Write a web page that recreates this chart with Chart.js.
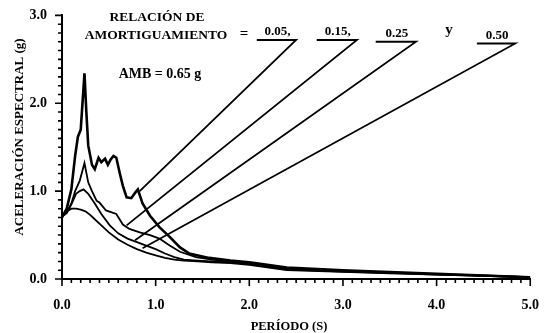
<!DOCTYPE html>
<html>
<head>
<title>Aceleración espectral</title>
<script src="https://cdn.jsdelivr.net/npm/chart.js"></script>
<style>
  html, body { margin: 0; padding: 0; background: #fff; }
  #wrap { width: 549px; height: 333px; }
</style>
</head>
<body>
<div id="wrap"><canvas id="myChart"></canvas></div>
<script>
// damping ratios
const dampingRatios = ['0.05,', '0.15,', '0.25', '0.50'];

// spectral acceleration (g) vs period (s), one pair of arrays per damping ratio
const periods005 = [0, 0.05, 0.10, 0.14, 0.17, 0.20, 0.24, 0.26, 0.28, 0.32, 0.35, 0.39, 0.42, 0.46, 0.49, 0.52, 0.55, 0.58, 0.62, 0.65, 0.69, 0.74, 0.78, 0.81, 0.86, 0.94, 1.04, 1.15, 1.26, 1.36, 1.57, 1.8, 2.0, 2.4, 3.0, 3.5, 4.0, 4.5, 5.0];
const accel005   = [0.70, 0.80, 1.02, 1.40, 1.62, 1.70, 2.34, 1.90, 1.52, 1.30, 1.25, 1.38, 1.33, 1.37, 1.30, 1.36, 1.40, 1.38, 1.19, 1.06, 0.93, 0.92, 0.98, 1.02, 0.86, 0.72, 0.59, 0.48, 0.36, 0.29, 0.24, 0.21, 0.19, 0.13, 0.10, 0.08, 0.06, 0.04, 0.02];

const periods015 = [0, 0.05, 0.10, 0.14, 0.19, 0.24, 0.28, 0.32, 0.37, 0.40, 0.47, 0.58, 0.65, 0.72, 0.83, 0.94, 1.04, 1.15, 1.26, 1.43, 1.6, 1.8, 2.0, 2.4, 3.0, 3.5, 4.0, 4.5, 5.0];
const accel015   = [0.71, 0.76, 0.86, 1.00, 1.12, 1.32, 1.10, 1.00, 0.89, 0.87, 0.78, 0.74, 0.62, 0.57, 0.53, 0.50, 0.46, 0.38, 0.31, 0.25, 0.22, 0.20, 0.18, 0.12, 0.09, 0.075, 0.055, 0.04, 0.02];

const periods025 = [0, 0.05, 0.10, 0.15, 0.19, 0.23, 0.28, 0.35, 0.42, 0.51, 0.60, 0.70, 0.80, 0.90, 1.00, 1.10, 1.20, 1.30, 1.45, 1.6, 1.8, 2.0, 2.4, 3.0, 3.5, 4.0, 4.5, 5.0];
const accel025   = [0.71, 0.75, 0.85, 0.97, 1.00, 1.02, 0.97, 0.86, 0.74, 0.61, 0.52, 0.46, 0.42, 0.38, 0.34, 0.29, 0.25, 0.22, 0.21, 0.20, 0.19, 0.17, 0.11, 0.085, 0.07, 0.05, 0.035, 0.02];

const periods050 = [0, 0.05, 0.10, 0.15, 0.20, 0.25, 0.30, 0.35, 0.40, 0.50, 0.60, 0.70, 0.80, 0.90, 1.00, 1.10, 1.20, 1.30, 1.45, 1.6, 1.8, 2.0, 2.4, 3.0, 3.5, 4.0, 4.5, 5.0];
const accel050   = [0.72, 0.77, 0.80, 0.80, 0.79, 0.77, 0.73, 0.68, 0.63, 0.53, 0.45, 0.39, 0.34, 0.30, 0.27, 0.24, 0.22, 0.21, 0.20, 0.19, 0.18, 0.16, 0.10, 0.08, 0.065, 0.05, 0.035, 0.02];

// axis ticks
const xTicks = [0, 1, 2, 3, 4, 5];
const yTicks = [0, 1, 2, 3];

// leader lines: label underline start/end and the point on the curve (data units)
const leaders = [
  { label: dampingRatios[0], from: [2.08, 2.72], to: [2.50, 2.72], tip: [0.83, 1.00] },
  { label: dampingRatios[1], from: [2.72, 2.72], to: [3.15, 2.72], tip: [0.69, 0.61] },
  { label: dampingRatios[2], from: [3.35, 2.70], to: [3.78, 2.70], tip: [0.78, 0.44] },
  { label: dampingRatios[3], from: [4.43, 2.68], to: [4.84, 2.68], tip: [0.86, 0.35] }
];

function toXY(xs, ys) {
  return xs.map((x, i) => ({ x: x, y: ys[i] }));
}

const serif = '"Liberation Serif", "DejaVu Serif", serif';

const annotations = {
  id: 'annotations',
  afterDraw(chart) {
    const c = chart.ctx;
    const xs = chart.scales.x, ys = chart.scales.y;
    c.save();
    c.strokeStyle = '#000';
    c.fillStyle = '#000';

    // leader lines
    c.lineWidth = 1.8;
    c.textAlign = 'center';
    c.textBaseline = 'alphabetic';
    c.font = 'bold 13px ' + serif;
    leaders.forEach(l => {
      const x1 = xs.getPixelForValue(l.from[0]), y1 = ys.getPixelForValue(l.from[1]);
      const x2 = xs.getPixelForValue(l.to[0]), y2 = ys.getPixelForValue(l.to[1]);
      const x3 = xs.getPixelForValue(l.tip[0]), y3 = ys.getPixelForValue(l.tip[1]);
      c.beginPath();
      c.moveTo(x1, y1); c.lineTo(x2, y2); c.lineTo(x3, y3);
      c.stroke();
      c.fillText(l.label, (x1 + x2) / 2 + 1, y1 - 5);
    });

    // text block
    c.font = 'bold 13.5px ' + serif;
    c.fillText('RELACIÓN DE', 157, 21);
    c.fillText('AMORTIGUAMIENTO', 156, 39);
    c.font = 'bold 15px ' + serif;
    c.fillText('=', 244, 38);
    c.fillText('y', 449, 34);
    c.font = 'bold 14px ' + serif;
    c.fillText('AMB = 0.65 g', 160, 78);

    // axis titles
    c.font = 'bold 12.5px ' + serif;
    c.fillText('PERÍODO (S)', 289, 330);
    c.save();
    c.translate(23, 137);
    c.rotate(-Math.PI / 2);
    c.font = 'bold 13px ' + serif;
    c.fillText('ACELERACIÓN ESPECTRAL (g)', 0, 0);
    c.restore();

    // tick marks: minor every 0.1, major at the labels
    const x0 = xs.left, y0 = ys.bottom;
    c.beginPath();
    c.lineWidth = 1.6;
    for (let i = 0; i <= 50; i++) {
      const p = xs.getPixelForValue(i / 10);
      const len = xTicks.includes(i / 10) ? 7 : 4;
      c.moveTo(p, y0);
      c.lineTo(p, y0 + len);
    }
    for (let i = 0; i <= 30; i++) {
      const p = ys.getPixelForValue(i / 10);
      const len = yTicks.includes(i / 10) ? 7 : 4;
      c.moveTo(x0, p);
      c.lineTo(x0 - len, p);
    }
    c.stroke();
    c.restore();
  }
};

const lineSet = (xs, ys, w) => ({
  data: toXY(xs, ys),
  borderColor: '#000',
  borderWidth: w,
  pointRadius: 0,
  tension: 0,
  fill: false
});

const ctx = document.getElementById('myChart').getContext('2d');
const myChart = new Chart(ctx, {
  type: 'line',
  data: {
    datasets: [
      lineSet(periods005, accel005, 2.6),
      lineSet(periods015, accel015, 1.8),
      lineSet(periods025, accel025, 1.8),
      lineSet(periods050, accel050, 1.8)
    ]
  },
  options: {
    responsive: true,
    maintainAspectRatio: false,
    animation: false,
    layout: { padding: { top: 14, right: 17, left: 0, bottom: 0 } },
    plugins: { legend: { display: false }, tooltip: { enabled: false } },
    scales: {
      x: {
        type: 'linear',
        min: 0, max: 5,
        afterFit(s) { s.height = 54; },
        border: { display: true, color: '#000', width: 2 },
        grid: { display: false },
        ticks: {
          stepSize: 1,
          autoSkip: false,
          maxRotation: 0,
          color: '#000',
          padding: 10,
          font: { family: serif, size: 14, weight: 'bold' },
          callback: v => v.toFixed(1)
        }
      },
      y: {
        min: 0, max: 3,
        afterFit(s) { s.width = 62; },
        border: { display: true, color: '#000', width: 2 },
        grid: { display: false },
        ticks: {
          stepSize: 1,
          autoSkip: false,
          color: '#000',
          padding: 7,
          font: { family: serif, size: 14, weight: 'bold' },
          callback: v => v.toFixed(1)
        }
      }
    }
  },
  plugins: [annotations]
});
</script>
</body>
</html>
